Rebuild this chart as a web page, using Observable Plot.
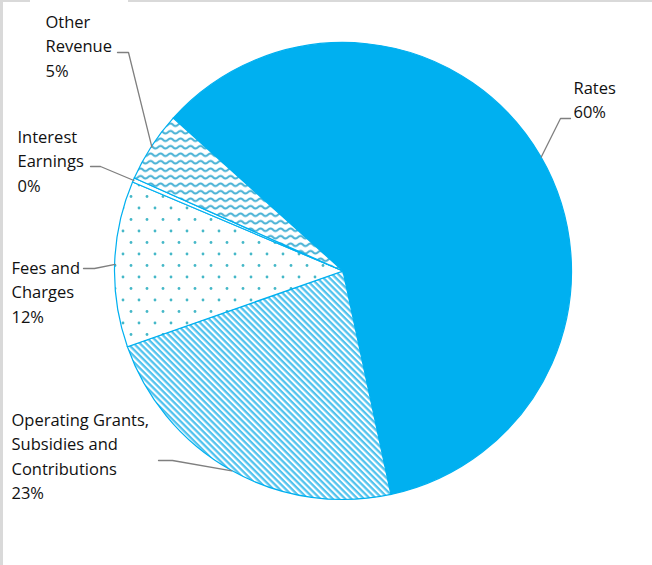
<!DOCTYPE html>
<html>
<head>
<meta charset="utf-8">
<script src="https://cdn.jsdelivr.net/npm/d3@7"></script>
<script src="https://cdn.jsdelivr.net/npm/@observablehq/plot@0.6"></script>
<style>
  html, body { margin: 0; padding: 0; background: #fff; }
  #wrap { position: relative; width: 652px; height: 565px; overflow: hidden; }
  .frame { position: absolute; background: #d9d9d9; }
</style>
</head>
<body>
<div id="wrap">
  <div id="chart"></div>
  <div class="frame" style="left:0;top:0;width:30px;height:2px"></div>
  <div class="frame" style="left:128px;top:0;width:524px;height:2px"></div>
  <div class="frame" style="left:0;top:0;width:3px;height:565px"></div>
</div>
<script>
// ---- data ----
const categories = ["Rates", "Operating Grants, Subsidies and Contributions", "Fees and Charges", "Interest Earnings", "Other Revenue"];
const values = [60.0, 23.0, 11.75, 0.3, 5.0];
const percentLabels = ["60%", "23%", "12%", "0%", "5%"];
const labelLines = [["Rates"], ["Operating Grants,", "Subsidies and", "Contributions"], ["Fees and", "Charges"], ["Interest", "Earnings"], ["Other", "Revenue"]];
const fills = ["solid", "stripes", "dots", "plain", "waves"];

// ---- layout (pixel-like units of the x/y scales) ----
const W = 652, H = 565;
const cx = 343, cy = 271, R = 228.5;
const startDeg = 312;
const lineStep = 24.5;
const labelLayout = [
  { tx: 573, ty: 88,  elbow: [560, 118], end: [570, 118] },
  { tx: 11,  ty: 420, elbow: [172, 460], end: [158, 460] },
  { tx: 11,  ty: 268, elbow: [94, 268],  end: [83, 268] },
  { tx: 17,  ty: 137, elbow: [100, 166], end: [90, 166] },
  { tx: 45,  ty: 22,  elbow: [128, 52],  end: [117, 52] }
];

const BLUE = "#00B0F0";
const table = categories.map((c, i) => ({ category: c, value: values[i], pct: percentLabels[i], fill: fills[i] }));
const arcs = d3.pie().sort(null).value(d => d.value)
  .startAngle(startDeg * Math.PI / 180)
  .endAngle(startDeg * Math.PI / 180 + 2 * Math.PI)(table);

// leader lines: rim point at slice middle -> elbow -> end
const leaders = [];
arcs.forEach((a, i) => {
  const m = (a.startAngle + a.endAngle) / 2;
  const L = labelLayout[i];
  leaders.push({ k: i, x: cx + R * Math.sin(m), y: cy - R * Math.cos(m) });
  leaders.push({ k: i, x: L.elbow[0], y: L.elbow[1] });
  leaders.push({ k: i, x: L.end[0], y: L.end[1] });
});

// label text rows
const textRows = [];
labelLines.forEach((lines, i) => {
  const all = lines.concat([percentLabels[i]]);
  all.forEach((t, j) => textRows.push({ x: labelLayout[i].tx, y: labelLayout[i].ty + j * lineStep, t }));
});

function pieMark(index, scales) {
  const sx = scales.x, sy = scales.y;
  const X = sx(cx), Y = sy(cy), r = sx(cx + R) - sx(cx);
  const g = d3.create("svg:g");
  const defs = g.append("defs");
  // diagonal stripes
  const ps = defs.append("pattern").attr("id", "pStripes").attr("patternUnits", "userSpaceOnUse")
    .attr("width", 10).attr("height", 4.4).attr("patternTransform", "rotate(45)");
  ps.append("rect").attr("width", 10).attr("height", 4.4).attr("fill", "#ffffff");
  ps.append("rect").attr("y", 0).attr("width", 10).attr("height", 2.3).attr("fill", "#52c3ee");
  // dots
  const pd = defs.append("pattern").attr("id", "pDots").attr("patternUnits", "userSpaceOnUse")
    .attr("width", 16).attr("height", 23);
  pd.append("rect").attr("width", 16).attr("height", 23).attr("fill", "#ffffff");
  pd.append("circle").attr("cx", 4).attr("cy", 6).attr("r", 1.4).attr("fill", "#45b8c8");
  pd.append("circle").attr("cx", 12).attr("cy", 17.5).attr("r", 1.4).attr("fill", "#45b8c8");
  // waves
  const pw = defs.append("pattern").attr("id", "pWaves").attr("patternUnits", "userSpaceOnUse")
    .attr("width", 10).attr("height", 7.5);
  pw.append("rect").attr("width", 10).attr("height", 7.5).attr("fill", "#ffffff");
  pw.append("path").attr("d", "M-5,3.75 Q-2.5,1.2 0,3.75 T5,3.75 T10,3.75 T15,3.75")
    .attr("fill", "none").attr("stroke", "#4ab3d6").attr("stroke-width", 2);

  const arcGen = d3.arc().innerRadius(0).outerRadius(r);
  const fillOf = f => f === "solid" ? BLUE : f === "stripes" ? "url(#pStripes)" : f === "dots" ? "url(#pDots)" : f === "waves" ? "url(#pWaves)" : "#ffffff";
  g.append("g").attr("transform", `translate(${X},${Y})`)
    .selectAll("path").data(arcs).join("path")
    .attr("d", arcGen)
    .attr("fill", d => fillOf(d.data.fill))
    .attr("stroke", BLUE)
    .attr("stroke-width", 1.2)
    .attr("stroke-linejoin", "miter");
  return g.node();
}

const plot = Plot.plot({
  width: W,
  height: H,
  margin: 0,
  style: { background: "#ffffff", overflow: "visible" },
  x: { domain: [0, W], range: [0, W], axis: null },
  y: { domain: [0, H], range: [0, H], axis: null },
  marks: [
    pieMark,
    Plot.line(leaders, { x: "x", y: "y", z: "k", stroke: "#7f7f7f", strokeWidth: 1.3, curve: "linear" }),
    Plot.text(textRows, { x: "x", y: "y", text: "t", textAnchor: "start", fill: "#111111",
      fontSize: 16.5, fontFamily: "'Open Sans', sans-serif" })
  ]
});
document.getElementById("chart").appendChild(plot);
</script>
</body>
</html>
